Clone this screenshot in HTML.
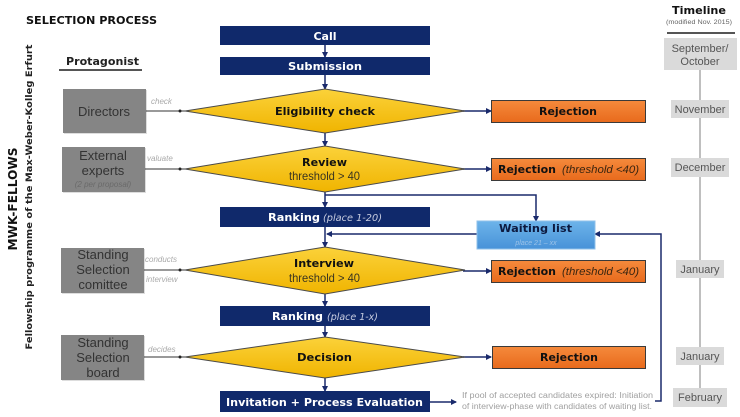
<!DOCTYPE html>
<html><head><meta charset="utf-8">
<style>
html,body{margin:0;padding:0;background:#fff;}
svg{display:block;}
</style></head>
<body>
<svg width="740" height="417" viewBox="0 0 740 417" xmlns="http://www.w3.org/2000/svg">
<defs>
<linearGradient id="yel" x1="0" y1="0" x2="0" y2="1">
<stop offset="0" stop-color="#fbd23a"/><stop offset="1" stop-color="#f0b400"/>
</linearGradient>
<linearGradient id="org" x1="0" y1="0" x2="0" y2="1">
<stop offset="0" stop-color="#f58a3c"/><stop offset="1" stop-color="#e86a1c"/>
</linearGradient>
<linearGradient id="blu" x1="0" y1="0" x2="0" y2="1">
<stop offset="0" stop-color="#6db4ea"/><stop offset="1" stop-color="#4892d8"/>
</linearGradient>
<marker id="ah" markerWidth="6" markerHeight="6" refX="5" refY="3" orient="auto" markerUnits="userSpaceOnUse">
<path d="M0,0 L6,3 L0,6 z" fill="#1a2a6c"/>
</marker>
</defs>

<!-- Titles -->
<text x="26" y="24" font-family="DejaVu Sans, sans-serif" font-weight="bold" font-size="11" fill="#111" textLength="131" lengthAdjust="spacingAndGlyphs">SELECTION PROCESS</text>
<text x="66" y="65" font-family="DejaVu Sans, sans-serif" font-weight="bold" font-size="11" fill="#222" textLength="73" lengthAdjust="spacingAndGlyphs">Protagonist</text>
<rect x="59" y="69" width="83" height="2" fill="#555"/>

<text transform="translate(17,199) rotate(-90)" text-anchor="middle" font-family="DejaVu Sans, sans-serif" font-weight="bold" font-size="12" fill="#111" textLength="103" lengthAdjust="spacingAndGlyphs">MWK-FELLOWS</text>
<text transform="translate(32,197) rotate(-90)" text-anchor="middle" font-family="DejaVu Sans, sans-serif" font-weight="bold" font-size="9" fill="#222" textLength="305" lengthAdjust="spacingAndGlyphs">Fellowship programme of the Max-Weber-Kolleg Erfurt</text>

<!-- Timeline -->
<text x="672" y="14" font-family="DejaVu Sans, sans-serif" font-weight="bold" font-size="11" fill="#111" textLength="54" lengthAdjust="spacingAndGlyphs">Timeline</text>
<text x="666" y="24" font-family="Liberation Sans, sans-serif" font-size="6" fill="#666" textLength="66" lengthAdjust="spacingAndGlyphs">(modified Nov. 2015)</text>
<rect x="667" y="32" width="68" height="2" fill="#555"/>
<line x1="700" y1="70" x2="700" y2="390" stroke="#aaa" stroke-width="1.5"/>
<g font-family="Liberation Sans, sans-serif" font-size="11" fill="#555" text-anchor="middle">
<rect x="664" y="38" width="73" height="32" fill="#dadada"/>
<text x="700" y="52">September/</text><text x="700" y="65">October</text>
<rect x="671" y="100" width="58" height="18" fill="#dadada"/>
<text x="700" y="113">November</text>
<rect x="671" y="158" width="58" height="19" fill="#dadada"/>
<text x="700" y="171">December</text>
<rect x="676" y="260" width="48" height="18" fill="#dadada"/>
<text x="700" y="273">January</text>
<rect x="676" y="347" width="48" height="18" fill="#dadada"/>
<text x="700" y="360">January</text>
<rect x="673" y="388" width="54" height="19" fill="#dadada"/>
<text x="700" y="401">February</text>
</g>

<!-- Protagonist boxes -->
<g fill="#858585">
<rect x="64" y="90" width="83" height="44" fill="#bbb" opacity="0.5"/>
<rect x="63" y="89" width="83" height="44"/>
<rect x="63" y="148" width="83" height="45" fill="#bbb" opacity="0.5"/>
<rect x="62" y="147" width="83" height="45"/>
<rect x="62" y="249" width="83" height="45" fill="#bbb" opacity="0.5"/>
<rect x="61" y="248" width="83" height="45"/>
<rect x="62" y="336" width="83" height="45" fill="#bbb" opacity="0.5"/>
<rect x="61" y="335" width="83" height="45"/>
</g>
<g font-family="Liberation Sans, sans-serif" font-size="13" fill="#333" text-anchor="middle">
<text x="104" y="116">Directors</text>
<text x="103" y="160">External</text>
<text x="103" y="175">experts</text>
<text x="103" y="259">Standing</text>
<text x="103" y="274">Selection</text>
<text x="103" y="289">comittee</text>
<text x="103" y="347">Standing</text>
<text x="103" y="362">Selection</text>
<text x="103" y="377">board</text>
</g>
<text x="103" y="187" text-anchor="middle" font-family="Liberation Sans, sans-serif" font-style="italic" font-size="8" fill="#6a6a6a">(2 per proposal)</text>

<!-- connectors protagonists -->
<g stroke="#333" stroke-width="1">
<line x1="146" y1="111" x2="185" y2="111"/>
<line x1="145" y1="169" x2="185" y2="169"/>
<line x1="144" y1="270" x2="185" y2="270"/>
<line x1="144" y1="357" x2="185" y2="357"/>
</g>
<g fill="#222">
<circle cx="180" cy="111" r="1.5"/><circle cx="180" cy="169" r="1.5"/><circle cx="180" cy="270" r="1.5"/><circle cx="180" cy="357" r="1.5"/>
</g>
<g font-family="Liberation Sans, sans-serif" font-style="italic" font-size="8" fill="#aaa">
<text x="151" y="104">check</text>
<text x="147" y="161">valuate</text>
<text x="145" y="262">conducts</text>
<text x="146" y="282">interview</text>
<text x="148" y="352">decides</text>
</g>

<!-- flow vertical arrows -->
<g stroke="#1a2a6c" stroke-width="1.5" marker-end="url(#ah)">
<line x1="325" y1="45" x2="325" y2="57"/>
<line x1="325" y1="75" x2="325" y2="89"/>
<line x1="325" y1="133" x2="325" y2="146"/>
<line x1="325" y1="192" x2="325" y2="207"/>
<line x1="325" y1="227" x2="325" y2="247"/>
<line x1="325" y1="294" x2="325" y2="306"/>
<line x1="325" y1="326" x2="325" y2="337"/>
<line x1="325" y1="378" x2="325" y2="391"/>
<line x1="463" y1="111" x2="491" y2="111"/>
<line x1="463" y1="169" x2="491" y2="169"/>
<line x1="463" y1="271" x2="491" y2="271"/>
<line x1="463" y1="357" x2="491" y2="357"/>
<line x1="430" y1="402" x2="456" y2="402"/>
<polyline points="325,195 536,195 536,221" fill="none"/>
<line x1="477" y1="234" x2="327" y2="234"/>
<polyline points="655,401 661,401 661,234 595,234" fill="none"/>
</g>

<!-- navy boxes -->
<g fill="#10296b">
<rect x="220" y="26" width="210" height="19"/>
<rect x="220" y="57" width="210" height="18"/>
<rect x="220" y="207" width="210" height="20"/>
<rect x="220" y="306" width="210" height="20"/>
<rect x="220" y="391" width="210" height="21"/>
</g>
<g font-family="DejaVu Sans, sans-serif" font-weight="bold" font-size="11" fill="#fff">
<text x="325" y="40" text-anchor="middle">Call</text>
<text x="288" y="70" textLength="74" lengthAdjust="spacingAndGlyphs">Submission</text>
<text x="268" y="221" textLength="52" lengthAdjust="spacingAndGlyphs">Ranking</text>
<text x="272" y="320" textLength="51" lengthAdjust="spacingAndGlyphs">Ranking</text>
<text x="226" y="406" textLength="197" lengthAdjust="spacingAndGlyphs">Invitation + Process Evaluation</text>
</g>
<g font-family="DejaVu Sans, sans-serif" font-style="italic" font-size="10" fill="#c8cde0">
<text x="323" y="221" textLength="59" lengthAdjust="spacingAndGlyphs">(place 1-20)</text>
<text x="327" y="320" textLength="51" lengthAdjust="spacingAndGlyphs">(place 1-x)</text>
</g>

<!-- diamonds -->
<g fill="url(#yel)" stroke="#4a4a4a" stroke-width="1">
<polygon points="185,111 325,89 465,111 325,133"/>
<polygon points="185,169 325,146 465,169 325,192"/>
<polygon points="185,270 325,247 465,270 325,294"/>
<polygon points="185,357 325,337 465,357 325,378"/>
</g>
<g font-family="DejaVu Sans, sans-serif" font-weight="bold" font-size="11" fill="#111">
<text x="275" y="115" textLength="100" lengthAdjust="spacingAndGlyphs">Eligibility check</text>
<text x="302" y="166" textLength="45" lengthAdjust="spacingAndGlyphs">Review</text>
<text x="294" y="267" textLength="60" lengthAdjust="spacingAndGlyphs">Interview</text>
<text x="297" y="361" textLength="55" lengthAdjust="spacingAndGlyphs">Decision</text>
</g>
<g font-family="Liberation Sans, sans-serif" font-size="12" fill="#3a3520">
<text x="289" y="180" textLength="71" lengthAdjust="spacingAndGlyphs">threshold &gt; 40</text>
<text x="289" y="282" textLength="71" lengthAdjust="spacingAndGlyphs">threshold &gt; 40</text>
</g>

<!-- rejection boxes -->
<g fill="url(#org)" stroke="#3a3a3a" stroke-width="1">
<rect x="491.5" y="100.5" width="154" height="22"/>
<rect x="491.5" y="158.5" width="154" height="22"/>
<rect x="491.5" y="260.5" width="154" height="22"/>
<rect x="492.5" y="346.5" width="153" height="22"/>
</g>
<g font-family="DejaVu Sans, sans-serif" font-weight="bold" font-size="11" fill="#111">
<text x="539" y="115" textLength="58" lengthAdjust="spacingAndGlyphs">Rejection</text>
<text x="498" y="173" textLength="58" lengthAdjust="spacingAndGlyphs">Rejection</text>
<text x="498" y="275" textLength="58" lengthAdjust="spacingAndGlyphs">Rejection</text>
<text x="540" y="361" textLength="58" lengthAdjust="spacingAndGlyphs">Rejection</text>
</g>
<g font-family="Liberation Sans, sans-serif" font-style="italic" font-size="11" fill="#3a2510">
<text x="562" y="173" textLength="77" lengthAdjust="spacingAndGlyphs">(threshold &lt;40)</text>
<text x="562" y="275" textLength="77" lengthAdjust="spacingAndGlyphs">(threshold &lt;40)</text>
</g>

<!-- waiting list -->
<rect x="477" y="221" width="118" height="28" fill="url(#blu)" stroke="#8fc0ea" stroke-width="1"/>
<text x="499" y="232" font-family="DejaVu Sans, sans-serif" font-weight="bold" font-size="11" fill="#0d1a40" textLength="73" lengthAdjust="spacingAndGlyphs">Waiting list</text>
<text x="536" y="245" text-anchor="middle" font-family="Liberation Sans, sans-serif" font-style="italic" font-size="7" fill="#9cc3e8">place 21 – xx</text>

<!-- note -->
<g font-family="Liberation Sans, sans-serif" font-size="8" fill="#a0a0a0">
<text x="462" y="398" textLength="191" lengthAdjust="spacingAndGlyphs">If pool of accepted candidates expired: Initiation</text>
<text x="462" y="409" textLength="190" lengthAdjust="spacingAndGlyphs">of interview-phase with candidates of waiting list.</text>
</g>
</svg>
</body></html>
